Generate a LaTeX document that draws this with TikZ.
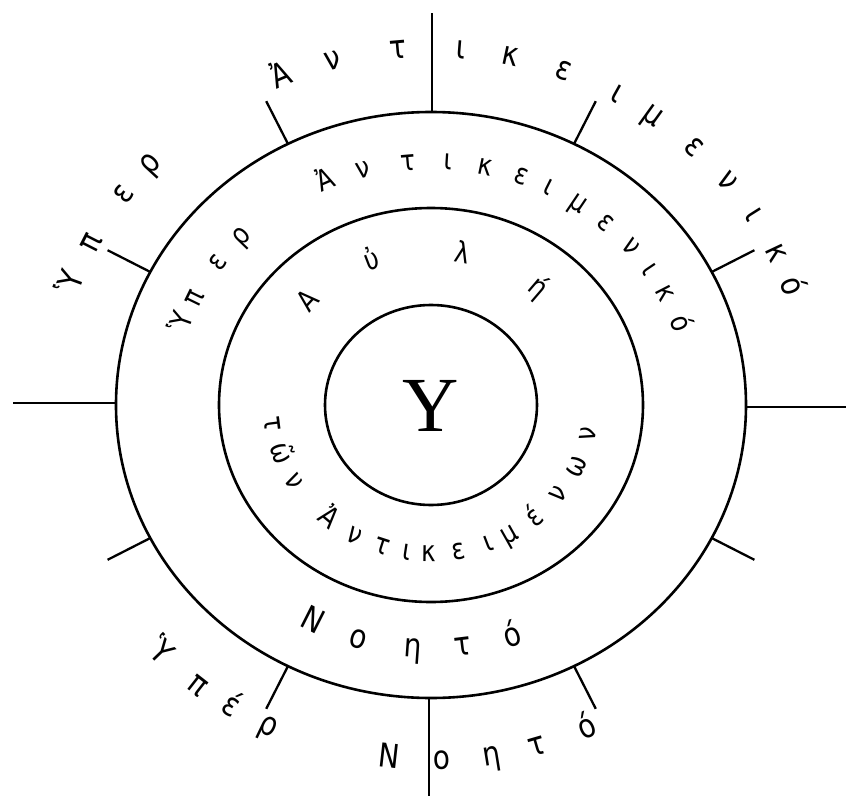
\documentclass[tikz,border=0pt]{standalone}
\usepackage{fontspec}
\setmainfont{DejaVu Sans}[FakeStretch=0.85]
\newfontfamily\ctrfont{Liberation Serif}
\begin{document}
\begin{tikzpicture}[x=1pt,y=1pt,
  ring/.style={line width=2.6pt},
  tick/.style={line width=2.3pt},
  lett/.style={font=\fontsize{29}{29}\selectfont, inner sep=0pt, text height=1ex, text depth=0pt, anchor=center},
  bigl/.style={lett, font=\fontsize{33}{33}\selectfont}]
\useasboundingbox (-431,-391) rectangle (415,405);
% rings
\draw[ring] (0,0) ellipse [x radius=315, y radius=293];
\draw[ring] (0,0) ellipse [x radius=212, y radius=197];
\draw[ring] (0,0) ellipse [x radius=106, y radius=100];
% short ticks
\foreach \t in {27,63,117,153,-27,-63,-117,-153}
  \draw[tick] (\t:315 and 293) -- (\t:363 and 341);
% long ticks
\draw[tick] (1,293) -- (1,392);
\draw[tick] (-314,2) -- (-418,2);
\draw[tick] (315,-2) -- (415,-2);
\draw[tick] (-2,-293) -- (-2,-391);
% centre
\node[font=\ctrfont\fontsize{78}{78}\selectfont, inner sep=0pt] (Y) at (0,-1) {Υ};
% outer top text
\foreach \c/\t [count=\i] in {Ὑ/160, π/153, ε/143.7, ρ/137.4, Ἀ/113, ν/105, τ/95, ι/85.5, κ/78, ε/69.7, ι/60.8, μ/54.3, ε/46.3, ν/38.9, ι/32.2, κ/25.2, ό/19.4}
  \node[bigl, rotate=\t-90] (ot\i) at (\t:375 and 350) {\c};
% outer bottom text
\foreach \c/\t [count=\i] in {Ὑ/-136, π/-128, έ/-122, ρ/-115.5, Ν/-96.4, ο/-88.4, η/-80.8, τ/-73.8, ό/-65.5}
  \node[bigl, rotate=\t+90] (ob\i) at (\t:385 and 362) {\c};
% middle top text
\foreach \c/\t [count=\i] in {Ὑ/160.3, π/154, ε/144, ρ/136, Ἀ/113.6, ν/105, τ/95, ι/86.3, κ/78.1, ε/70, ι/63.3, μ/56, ε/48.5, ν/40.5, ι/33.8, κ/27.3, ό/19.5}
  \node[lett, rotate=\t-90] (mt\i) at (\t:258 and 238) {\c};
% middle bottom text
\foreach \c/\t [count=\i] in {Ν/-116.8, ο/-106, η/-94, τ/-83, ό/-72}
  \node[bigl, rotate=\t+90] (mb\i) at (\t:270 and 250) {\c};
% inner top text
\foreach \c/\t [count=\i] in {Α/137.8, ὐ/110.9, λ/79, ή/49.4}
  \node[lett, rotate=\t-90] (it\i) at (\t:159 and 148) {\c};
% inner bottom text
\foreach \c/\t [count=\i] in {τ/-172.7, ῶ/-161, ν/-149, Ἀ/-130, ν/-118.5, τ/-108, ι/-98.7, κ/-90.7, ε/-80, ι/-69, μ/-60.5, έ/-49.3, ν/-37, ω/-24.7, ν/-11.2}
  \node[lett, rotate=\t+90] (ib\i) at (\t:165 and 154) {\c};
\end{tikzpicture}
\end{document}
